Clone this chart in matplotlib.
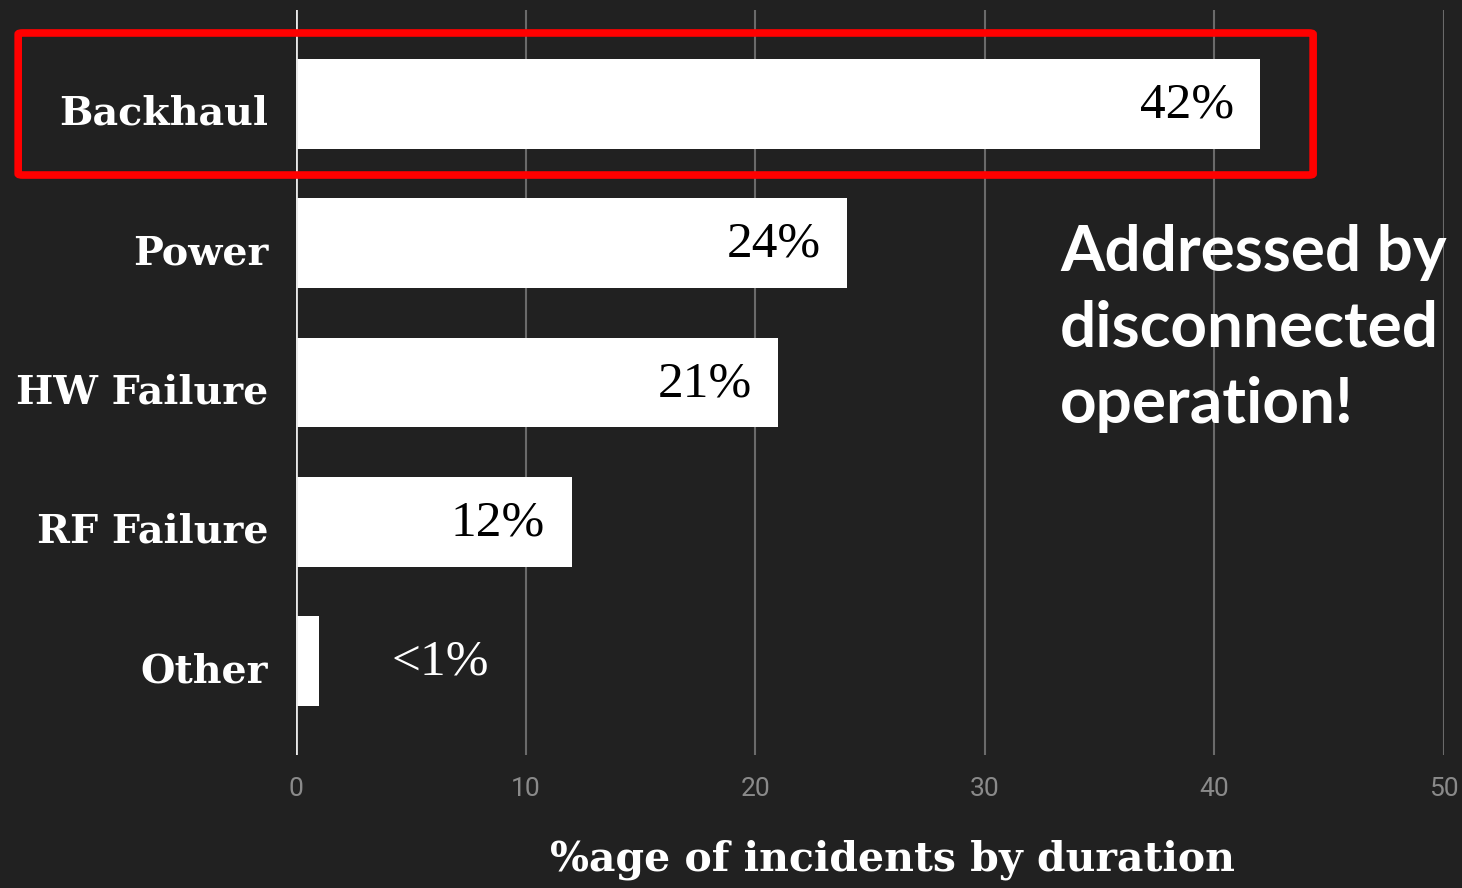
import matplotlib.pyplot as plt
from matplotlib.patches import FancyBboxPatch
from matplotlib.transforms import ScaledTranslation

categories = ['Backhaul', 'Power', 'HW Failure', 'RF Failure', 'Other']
values = [42, 24, 21, 12, 1]
value_labels = ['42%', '24%', '21%', '12%', '<1%']
xticks = [0, 10, 20, 30, 40, 50]

bg = '#212121'
serif = 'DejaVu Serif'

fig = plt.figure(figsize=(14.62, 8.88), dpi=100, facecolor=bg)
ax = fig.add_axes([296 / 1462, 133 / 888, 1148 / 1462, 745 / 888])
ax.set_facecolor(bg)

y = list(range(len(categories)))
ax.barh(y, values, height=0.646, color='white', zorder=3)

ax.set_xlim(0, 50)
ax.set_ylim(4.675, -0.675)
ax.set_xticks(xticks)
ax.set_xticklabels([str(t) for t in xticks], fontsize=19, color='#8a8a8a', family='Roboto')
ax.set_yticks(y)
ax.set_yticklabels(categories, fontsize=28.5, fontweight='bold', color='white', family=serif)
ax.tick_params(axis='both', length=0)
ax.tick_params(axis='y', pad=20)
ax.tick_params(axis='x', pad=16)
# nudge category labels down a little
shift = ScaledTranslation(0, -6 / 100, fig.dpi_scale_trans)
for lab in ax.get_yticklabels():
    lab.set_transform(lab.get_transform() + shift)

ax.grid(axis='x', color='#6a6a6a', linewidth=1.5, zorder=1)
ax.axvline(0, color='#e8e8e8', linewidth=2, zorder=4)
for s in ax.spines.values():
    s.set_visible(False)

for yi, v, lab in zip(y, values, value_labels):
    if v >= 5:
        ax.annotate(lab, (v, yi), xytext=(-19, -1), textcoords='offset points',
                    ha='right', va='center', fontsize=37, color='black', family='Liberation Serif')
    else:
        ax.annotate(lab, (v, yi), xytext=(52, -1), textcoords='offset points',
                    ha='left', va='center', fontsize=37, color='white', family='Liberation Serif')

# highlight box around the first bar
box = FancyBboxPatch((-12.1, -0.51), 56.4, 1.02, boxstyle='round,pad=0,rounding_size=0.2',
                     fill=False, edgecolor='#ff0000', linewidth=5.5, clip_on=False, zorder=5,
                     mutation_aspect=0.05)
ax.add_patch(box)

fig.text(1060 / 1462, 1 - 224 / 888, 'Addressed by\ndisconnected\noperation!', ha='left', va='top',
         fontsize=46, fontweight='bold', color='white', family='Lato', linespacing=1.4)

fig.text(892 / 1462, 1 - 860 / 888, '%age of incidents by duration', ha='center', va='center',
         fontsize=29.5, fontweight='bold', color='white', family=serif)

fig.savefig('out.png', dpi=100, facecolor=bg)
